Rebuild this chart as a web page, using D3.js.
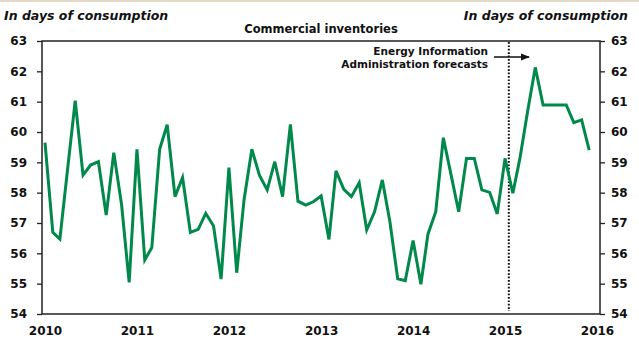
<!DOCTYPE html>
<html>
<head>
<meta charset="utf-8">
<script src="https://cdnjs.cloudflare.com/ajax/libs/d3/7.8.5/d3.min.js"></script>
<style>
  body { margin: 0; background: #fff; }
  svg text { font-family: "DejaVu Sans", sans-serif; font-weight: bold; fill: #111; }
</style>
</head>
<body>
<svg id="chart"></svg>
<script>
"use strict";

// monthly values, Jan of each year through Dec
var v2010 = [59.65, 56.69, 56.47, 58.8, 61.03, 58.58, 58.91, 59.02, 57.26, 59.32, 57.6, 55.04];
var v2011 = [59.43, 55.78, 56.19, 59.43, 60.24, 57.87, 58.5, 56.69, 56.79, 57.32, 56.9, 55.15];
var v2012 = [58.83, 55.36, 57.76, 59.43, 58.58, 58.09, 59.02, 57.87, 60.25, 57.72, 57.59, 57.7];
var v2013 = [57.89, 56.46, 58.72, 58.11, 57.87, 58.33, 56.77, 57.37, 58.42, 57.04, 55.16, 55.1];
var v2014 = [56.42, 54.98, 56.63, 57.37, 59.81, 58.58, 57.37, 59.13, 59.13, 58.09, 58.01, 57.3];
var v2015 = [59.13, 57.98, 59.13, 60.7, 62.13, 60.89, 60.89, 60.89, 60.89, 60.31, 60.4, 59.4];

var yearLabels = [2010, 2011, 2012, 2013, 2014, 2015, 2016];
var yTicks = [54, 55, 56, 57, 58, 59, 60, 61, 62, 63];
var forecastStart = new Date(2015, 0, 16);

var width = 639,
    height = 341;

var values = [].concat(v2010, v2011, v2012, v2013, v2014, v2015);
var data = values.map(function (v, i) {
    return { date: new Date(2010, i, 1), value: v };
});

var svg = d3.select("#chart")
    .attr("width", width)
    .attr("height", height);

var plotLeft = 42, plotRight = 600, plotTop = 41, plotBottom = 314;

var x = d3.scaleTime()
    .domain([new Date(2010, 0, 1), new Date(2016, 0, 1)])
    .range([45, 597]);

var y = d3.scaleLinear()
    .domain([54, 63])
    .range([plotBottom, plotTop]);

// thin tan strip along the top edge
svg.append("rect")
    .attr("x", 0).attr("y", 0)
    .attr("width", width).attr("height", 2)
    .attr("fill", "#e6d8c6");

// headings
svg.append("text")
    .attr("x", 4).attr("y", 20)
    .style("font-style", "italic")
    .style("font-size", "12.5px")
    .text("In days of consumption");

svg.append("text")
    .attr("x", 628).attr("y", 20)
    .attr("text-anchor", "end")
    .style("font-style", "italic")
    .style("font-size", "12.5px")
    .text("In days of consumption");

svg.append("text")
    .attr("x", 321).attr("y", 33)
    .attr("text-anchor", "middle")
    .style("font-size", "11.5px")
    .text("Commercial inventories");

// plot box
svg.append("rect")
    .attr("x", plotLeft).attr("y", plotTop)
    .attr("width", plotRight - plotLeft).attr("height", plotBottom - plotTop)
    .attr("fill", "none")
    .attr("stroke", "#222")
    .attr("stroke-width", 1.5);

// y axes on both sides
var yLeft = svg.append("g")
    .attr("transform", "translate(" + plotLeft + ",0)")
    .call(d3.axisLeft(y).tickValues(yTicks).tickSize(5).tickPadding(10));

var yRight = svg.append("g")
    .attr("transform", "translate(" + plotRight + ",0)")
    .call(d3.axisRight(y).tickValues(yTicks).tickSize(5).tickPadding(6));

[yLeft, yRight].forEach(function (g) {
    g.select(".domain").remove();
    g.selectAll("line").attr("stroke", "#222").attr("stroke-width", 1.3);
    g.selectAll("text")
        .style("font-size", "12px")
        .style("font-family", "DejaVu Sans")
        .style("font-weight", "bold")
        .attr("fill", "#111");
});

// x axis: year labels only
var xAxis = svg.append("g")
    .attr("transform", "translate(0," + plotBottom + ")")
    .call(d3.axisBottom(x)
        .tickValues(yearLabels.map(function (yr) { return new Date(yr, 0, 1); }))
        .tickSize(0)
        .tickPadding(12)
        .tickFormat(d3.timeFormat("%Y")));

xAxis.select(".domain").remove();
xAxis.selectAll("text")
    .style("font-size", "12px")
    .style("font-family", "DejaVu Sans")
    .style("font-weight", "bold")
    .attr("fill", "#111");

// forecast divider
svg.append("line")
    .attr("x1", x(forecastStart)).attr("x2", x(forecastStart))
    .attr("y1", plotTop + 1).attr("y2", plotBottom - 3)
    .attr("stroke", "#111")
    .attr("stroke-width", 2)
    .attr("stroke-dasharray", "1.7,1.7");

// annotation
svg.append("text")
    .attr("x", 488).attr("y", 55)
    .attr("text-anchor", "end")
    .style("font-size", "10.5px")
    .text("Energy Information");

svg.append("text")
    .attr("x", 488).attr("y", 68)
    .attr("text-anchor", "end")
    .style("font-size", "10.5px")
    .text("Administration forecasts");

svg.append("defs").append("marker")
    .attr("id", "arrow")
    .attr("viewBox", "0 0 10 10")
    .attr("refX", 9).attr("refY", 5)
    .attr("markerWidth", 6).attr("markerHeight", 6)
    .attr("orient", "auto")
    .append("path")
    .attr("d", "M0,1 L10,5 L0,9 Z")
    .attr("fill", "#111");

svg.append("line")
    .attr("x1", 494).attr("x2", 529)
    .attr("y1", 57).attr("y2", 57)
    .attr("stroke", "#111")
    .attr("stroke-width", 1.5)
    .attr("marker-end", "url(#arrow)");

// inventory line
var line = d3.line()
    .x(function (d) { return x(d.date); })
    .y(function (d) { return y(d.value); });

svg.append("path")
    .datum(data)
    .attr("d", line)
    .attr("fill", "none")
    .attr("stroke", "#00894a")
    .attr("stroke-width", 3)
    .attr("stroke-linejoin", "miter");
</script>
</body>
</html>
